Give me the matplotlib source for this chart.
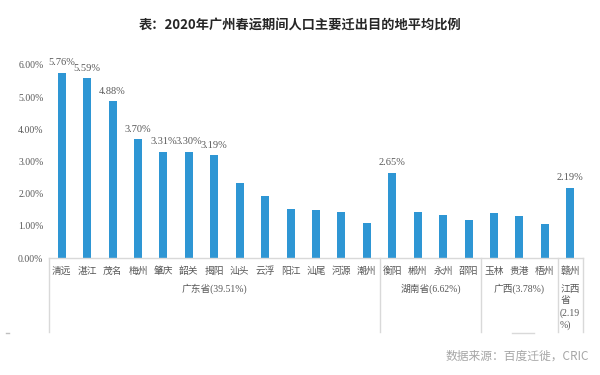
import matplotlib
matplotlib.use("Agg")
import matplotlib.pyplot as plt
from matplotlib.lines import Line2D

cities = ["清远", "湛江", "茂名", "梅州", "肇庆", "韶关", "揭阳", "汕头", "云浮", "阳江",
          "汕尾", "河源", "潮州", "衡阳", "郴州", "永州", "邵阳", "玉林", "贵港", "梧州", "赣州"]
shares = [5.76, 5.59, 4.88, 3.70, 3.31, 3.30, 3.19, 2.32, 1.93, 1.53,
          1.48, 1.42, 1.09, 2.65, 1.44, 1.34, 1.18, 1.40, 1.31, 1.06, 2.19]
labelled = ["清远", "湛江", "茂名", "梅州", "肇庆", "韶关", "揭阳", "衡阳", "赣州"]
groups = ["广东省(39.51%)", "湖南省(6.62%)", "广西(3.78%)", "江西\n省\n(2.19\n%)"]
group_sizes = [13, 4, 3, 1]
yticks = [0, 1, 2, 3, 4, 5, 6]

serif_cjk = ["Liberation Serif", "Noto Sans CJK SC"]
blue = "#2E96D4"
grey_text = "#595959"
line_grey = "#D9D9D9"

fig = plt.figure(figsize=(6, 3.75), dpi=100)
ax = fig.add_axes([49 / 600, 117 / 375, 534 / 600, 193 / 375])

x = list(range(len(cities)))
ax.bar(x, shares, width=0.32, color=blue, zorder=2)
ax.set_xlim(-0.5, len(cities) - 0.5)
ax.set_ylim(0, 6)

ax.set_yticks(yticks)
ax.set_yticklabels([f"{v:.2f}%" for v in yticks], family="Liberation Serif",
                   fontsize=7, color=grey_text)
ax.set_xticks([])
ax.tick_params(axis="y", length=0, pad=4)
for side in ["top", "right", "left"]:
    ax.spines[side].set_visible(False)
ax.spines["bottom"].set_color(line_grey)
ax.spines["bottom"].set_linewidth(1)

# data labels
for xi, city, val in zip(x, cities, shares):
    if city in labelled:
        ax.text(xi, val + 0.17, f"{val:.2f}%", ha="center", va="bottom",
                family="Liberation Serif", fontsize=7.5, color=grey_text)

# category labels
tr = ax.get_xaxis_transform()
for xi, city in zip(x, cities):
    ax.text(xi, -0.068, city, ha="center", va="center", transform=tr,
            family="Noto Sans CJK SC", fontsize=7, color=grey_text)

# group separators and labels
bottom = -0.383
start = -0.5
for g, (name, n) in enumerate(zip(groups, group_sizes)):
    end = start + n
    ax.add_line(Line2D([start, start], [0, bottom], transform=tr, color=line_grey,
                       linewidth=1, clip_on=False))
    if n > 1:
        ax.text((start + end) / 2, -0.16, name, ha="center", va="center", transform=tr,
                family=serif_cjk, fontsize=7, color=grey_text)
    else:
        ax.text(start + 0.1, -0.14, name, ha="left", va="top", transform=tr,
                family=serif_cjk, fontsize=7, color=grey_text, linespacing=1.35)
    start = end
ax.add_line(Line2D([start, start], [0, bottom], transform=tr, color=line_grey,
                   linewidth=1, clip_on=False))

# small stray marks from the original export
fig.add_artist(Line2D([512 / 600, 534 / 600], [42 / 375, 42 / 375], color=line_grey, linewidth=1))
fig.add_artist(Line2D([6 / 600, 9 / 600], [42 / 375, 42 / 375], color="#BFBFBF", linewidth=1))

fig.text(0.5, 1 - 25 / 375, "表：2020年广州春运期间人口主要迁出目的地平均比例", ha="center",
         va="center", family=["Noto Sans CJK SC", "DejaVu Sans"], fontsize=9.5,
         fontweight="bold", color="#262626")
fig.text(589 / 600, 1 - 356 / 375, "数据来源：百度迁徙，CRIC", ha="right", va="center",
         family=["Noto Sans CJK SC", "DejaVu Sans"], fontsize=8.5, color="#A6A6A6")

fig.savefig("out.png", dpi=100, facecolor="white")
